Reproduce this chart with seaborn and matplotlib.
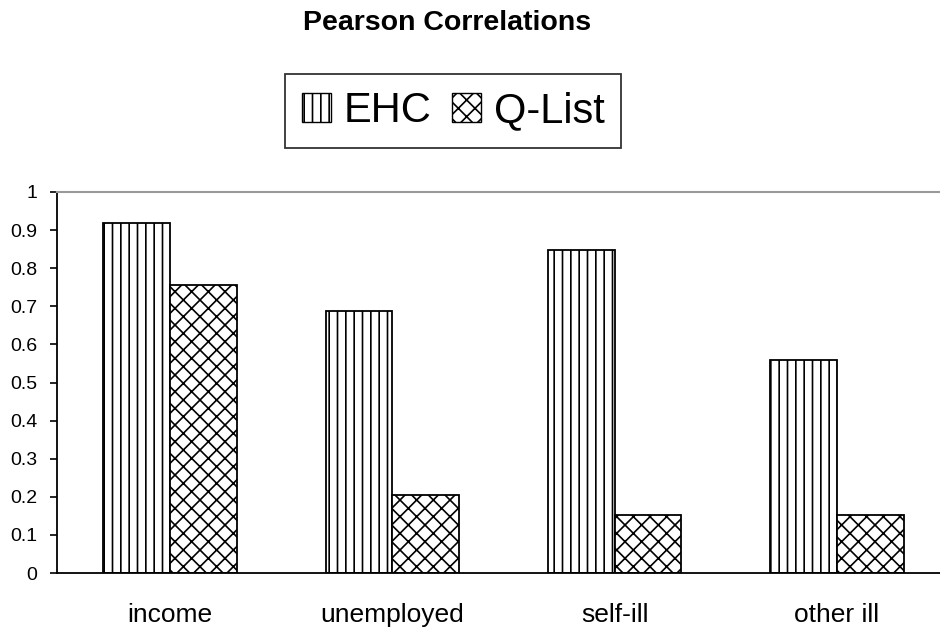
import pandas as pd
import seaborn as sns
import matplotlib.pyplot as plt
from matplotlib.patches import Patch
from matplotlib.ticker import FormatStrFormatter

# --- data ---
categories = ['income', 'unemployed', 'self-ill', 'other ill']
series_names = ['EHC', 'Q-List']
ehc_values = [0.919, 0.687, 0.849, 0.558]
qlist_values = [0.755, 0.206, 0.152, 0.152]
y_ticks = [0, 0.1, 0.2, 0.3, 0.4, 0.5, 0.6, 0.7, 0.8, 0.9, 1]

df = pd.DataFrame({
    'category': categories * 2,
    'series': [series_names[0]] * len(categories) + [series_names[1]] * len(categories),
    'value': ehc_values + qlist_values,
})

sns.set_style('white')
plt.rcParams['font.family'] = ['Liberation Sans', 'DejaVu Sans']
plt.rcParams['hatch.linewidth'] = 1.2
plt.rcParams['hatch.color'] = 'black'
# seaborn greys the text by default, the reference is plain black
plt.rcParams['text.color'] = 'black'
plt.rcParams['xtick.color'] = 'black'
plt.rcParams['ytick.color'] = 'black'
plt.rcParams['axes.labelcolor'] = 'black'

fig = plt.figure(figsize=(9.4, 6.31), dpi=100)
ax = fig.add_axes([57 / 940, 58 / 631, 883 / 940, 381 / 631])

sns.barplot(data=df, x='category', y='value', hue='series', order=categories,
            hue_order=series_names, palette=['white', 'white'], width=0.6,
            edgecolor='black', linewidth=1.3, legend=False, ax=ax)

hatches = {'EHC': '||', 'Q-List': 'xx'}
for container, name in zip(ax.containers, series_names):
    for bar in container:
        bar.set_hatch(hatches[name])

ax.set_ylim(0, 1)
ax.set_xlim(-0.5 - 2 / 222, 3.5 - 8 / 222)
ax.set_yticks(y_ticks)
ax.yaxis.set_major_formatter(FormatStrFormatter('%g'))
ax.set_xlabel('')
ax.set_ylabel('')

for side in ['left', 'bottom']:
    ax.spines[side].set_color('black')
    ax.spines[side].set_linewidth(1.3)
ax.spines['right'].set_visible(False)
ax.spines['top'].set_color('#999999')
ax.spines['top'].set_linewidth(1.5)

ax.tick_params(axis='y', direction='out', length=5, width=1.2, color='black',
               labelcolor='black', left=True, labelsize=14, pad=9)
ax.tick_params(axis='x', bottom=False, labelcolor='black', labelsize=19, pad=18)

fig.text(447 / 940, 1 - 23 / 631, 'Pearson Correlations', ha='center', va='center',
         fontsize=20.5, fontweight='bold', color='black')

handles = [Patch(facecolor='white', edgecolor='black', hatch=hatches[n], label=n)
           for n in series_names]
leg = fig.legend(handles=handles, loc='center', bbox_to_anchor=(453 / 940, 1 - 111 / 631),
                 ncol=2, fontsize=30, frameon=True, fancybox=False, handlelength=0.7,
                 handleheight=0.7, handletextpad=0.3, columnspacing=0.5, borderpad=0.4,
                 labelcolor='black')
leg.get_frame().set_edgecolor('black')
leg.get_frame().set_linewidth(1.3)

fig.savefig('out.png', dpi=100)
